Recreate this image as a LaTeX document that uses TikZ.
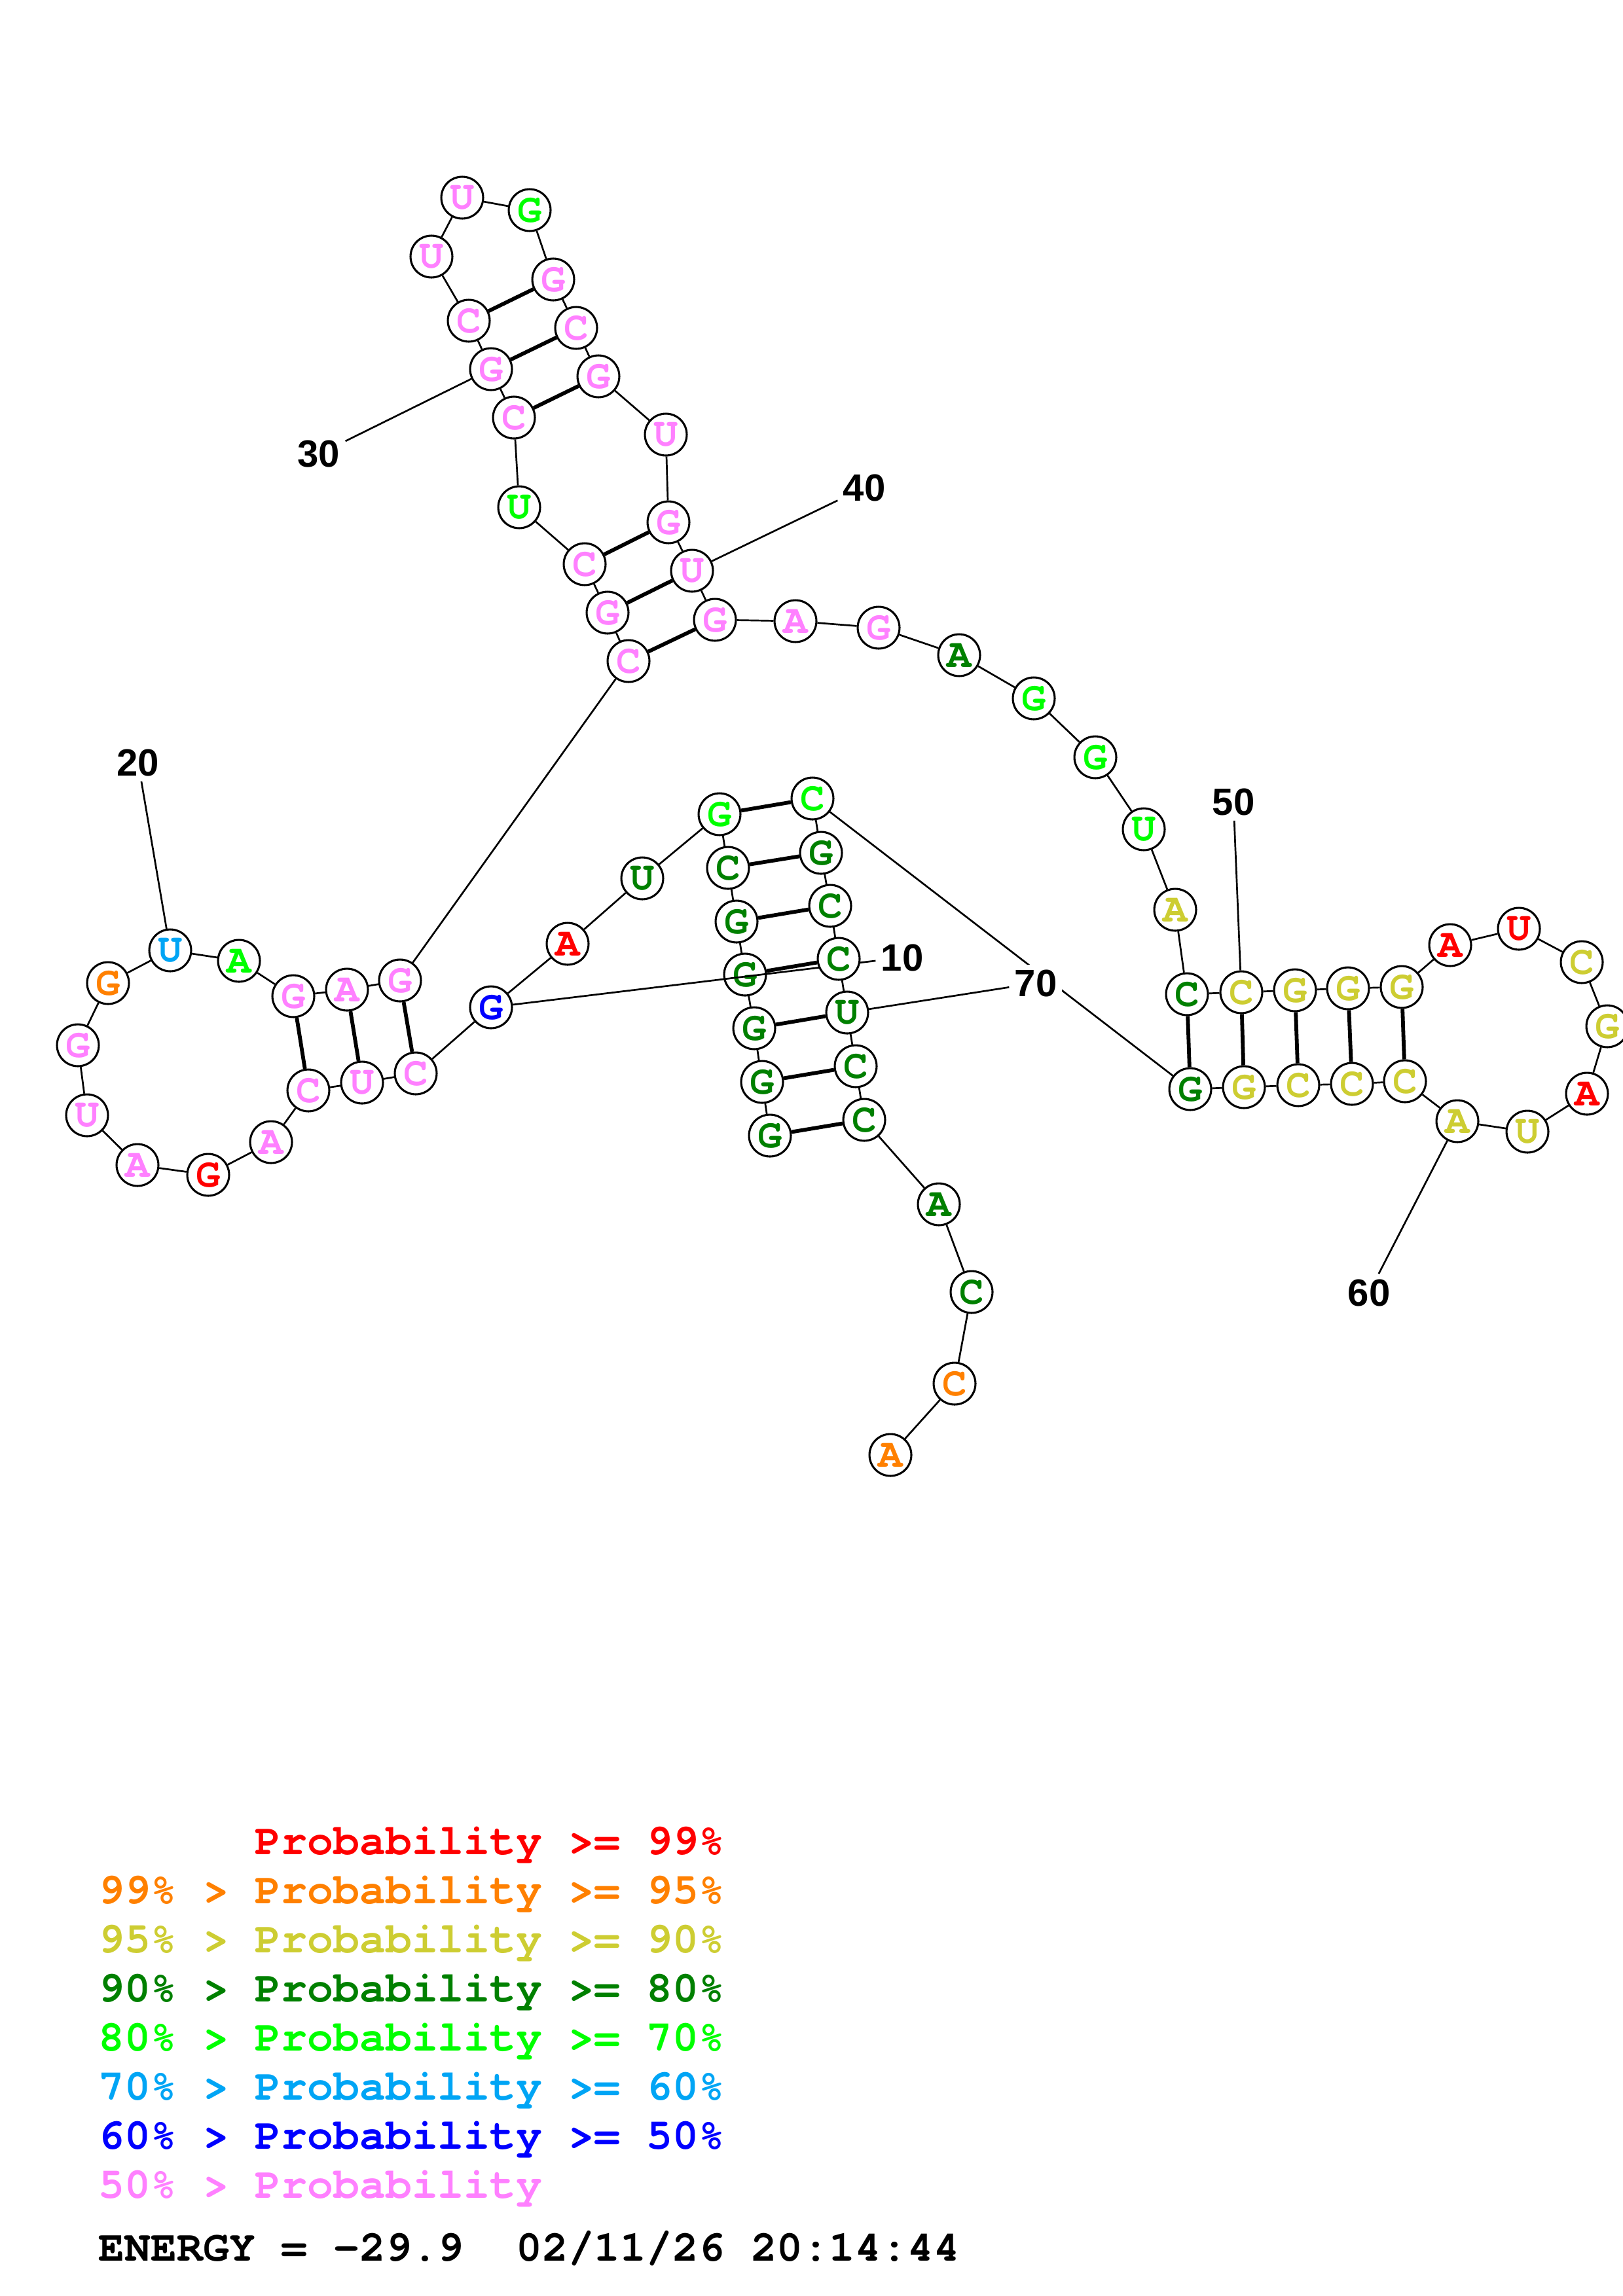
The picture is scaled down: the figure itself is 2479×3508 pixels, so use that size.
\documentclass[tikz,border=0pt]{standalone}
\usepackage{fontspec}
\newfontfamily\curfont{texgyrecursor}[Extension=.otf,UprightFont=*-regular,BoldFont=*-bold]
\newfontfamily\labfont{Liberation Sans}
\definecolor{pR}{RGB}{255,0,0}
\definecolor{pO}{RGB}{255,128,0}
\definecolor{pY}{RGB}{205,205,50}
\definecolor{pDG}{RGB}{0,128,0}
\definecolor{pG}{RGB}{0,255,0}
\definecolor{pC}{RGB}{0,165,245}
\definecolor{pB}{RGB}{0,0,255}
\definecolor{pP}{RGB}{255,128,255}
\pgfdeclarelayer{bg}
\pgfdeclarelayer{lo}
\pgfsetlayers{bg,lo,main}
\tikzset{
  nt/.style={circle,draw=black,line width=0.75pt,fill=white,minimum size=15.4pt,inner sep=0pt,
    font=\curfont\bfseries\fontsize{15}{15}\selectfont},
  bb/.style={line width=0.65pt},
  bp/.style={line width=1.4pt},
  numlab/.style={fill=white,inner sep=1.8pt,font=\labfont\bfseries\fontsize{14}{14}\selectfont},
  leg/.style={anchor=base west,inner sep=0pt,font=\curfont\bfseries\fontsize{16}{16}\selectfont}
}
\newcommand\ntd[5]{\node[nt,text=#3] (n#1) at (#4,#5) {#2};}
\frenchspacing
\begin{document}
\begin{tikzpicture}[x=0.2409pt,y=-0.2409pt]
\useasboundingbox (0,0) rectangle (2479,3508);
\begin{pgfonlayer}{bg}
\fill[white] (0,0) rectangle (2479,3508);
\end{pgfonlayer}
% nucleotides 10-76 (main layer)
\ntd{10}{G}{pB}{750}{1539}
\ntd{11}{C}{pP}{635}{1640}
\ntd{12}{U}{pP}{553}{1654}
\ntd{13}{C}{pP}{471}{1666}
\ntd{14}{A}{pP}{414}{1745}
\ntd{15}{G}{pR}{318}{1795}
\ntd{16}{A}{pP}{210}{1780}
\ntd{17}{U}{pP}{133}{1704}
\ntd{18}{G}{pP}{119}{1597}
\ntd{19}{G}{pO}{165}{1502}
\ntd{20}{U}{pC}{260}{1452}
\ntd{21}{A}{pG}{365}{1468}
\ntd{22}{G}{pP}{448}{1522}
\ntd{23}{A}{pP}{530}{1512}
\ntd{24}{G}{pP}{611}{1498}
\ntd{25}{C}{pP}{960}{1010}
\ntd{26}{G}{pP}{928}{936}
\ntd{27}{C}{pP}{893}{862}
\ntd{28}{U}{pG}{793}{775}
\ntd{29}{C}{pP}{785}{638}
\ntd{30}{G}{pP}{750}{564}
\ntd{31}{C}{pP}{716}{490}
\ntd{32}{U}{pP}{659}{392}
\ntd{33}{U}{pP}{706}{302}
\ntd{34}{G}{pG}{809}{321}
\ntd{35}{G}{pP}{845}{427}
\ntd{36}{C}{pP}{880}{501}
\ntd{37}{G}{pP}{914}{575}
\ntd{38}{U}{pP}{1017}{664}
\ntd{39}{G}{pP}{1021}{798}
\ntd{40}{U}{pP}{1057}{872}
\ntd{41}{G}{pP}{1092}{947}
\ntd{42}{A}{pP}{1215}{949}
\ntd{43}{G}{pP}{1342}{959}
\ntd{44}{A}{pDG}{1465}{1001}
\ntd{45}{G}{pG}{1579}{1067}
\ntd{46}{G}{pG}{1673}{1157}
\ntd{47}{U}{pG}{1747}{1267}
\ntd{48}{A}{pY}{1795}{1390}
\ntd{49}{C}{pDG}{1813}{1519}
\ntd{50}{C}{pY}{1896}{1516}
\ntd{51}{G}{pY}{1978}{1513}
\ntd{52}{G}{pY}{2059}{1510}
\ntd{53}{G}{pY}{2141}{1508}
\ntd{54}{A}{pR}{2215}{1444}
\ntd{55}{U}{pR}{2320}{1419}
\ntd{56}{C}{pY}{2416}{1470}
\ntd{57}{G}{pY}{2455}{1568}
\ntd{58}{A}{pR}{2424}{1671}
\ntd{59}{U}{pY}{2333}{1729}
\ntd{60}{A}{pY}{2226}{1713}
\ntd{61}{C}{pY}{2146}{1652}
\ntd{62}{C}{pY}{2065}{1656}
\ntd{63}{C}{pY}{1983}{1658}
\ntd{64}{G}{pY}{1900}{1661}
\ntd{65}{G}{pDG}{1818}{1664}
\ntd{66}{C}{pG}{1241}{1220}
\ntd{67}{G}{pDG}{1254}{1303}
\ntd{68}{C}{pDG}{1268}{1384}
\ntd{69}{C}{pDG}{1281}{1465}
\ntd{70}{U}{pDG}{1294}{1547}
\ntd{71}{C}{pDG}{1307}{1629}
\ntd{72}{C}{pDG}{1320}{1711}
\ntd{73}{A}{pDG}{1434}{1840}
\ntd{74}{C}{pDG}{1484}{1974}
\ntd{75}{C}{pO}{1458}{2114}
\ntd{76}{A}{pO}{1360}{2223}
% number labels
\node[numlab] (L10) at (1378,1463) {10};
\node[numlab] (L20) at (211,1165) {20};
\node[numlab] (L30) at (487,694) {30};
\node[numlab] (L40) at (1320,745) {40};
\node[numlab] (L50) at (1884,1225) {50};
\node[numlab] (L60) at (2091,1975) {60};
\node[numlab] (L70) at (1582,1502) {70};
% nucleotides 1-9 (lower layer)
\begin{pgfonlayer}{lo}
\ntd{1}{G}{pDG}{1176}{1735}
\ntd{2}{G}{pDG}{1164}{1653}
\ntd{3}{G}{pDG}{1152}{1571}
\ntd{4}{G}{pDG}{1138}{1489}
\ntd{5}{G}{pDG}{1125}{1408}
\ntd{6}{C}{pDG}{1112}{1326}
\ntd{7}{G}{pG}{1099}{1244}
\ntd{8}{U}{pDG}{981}{1342}
\ntd{9}{A}{pR}{867}{1442}
\draw[bb] (n10) -- (L10);
\end{pgfonlayer}
% connectors
\begin{pgfonlayer}{bg}
\foreach \i in {1,...,75}{\pgfmathtruncatemacro\j{\i+1}\draw[bb] (n\i) -- (n\j);}
\foreach \a/\b in {1/72,2/71,3/70,4/69,5/68,6/67,7/66,11/24,12/23,13/22,25/41,26/40,27/39,29/37,30/36,31/35,49/65,50/64,51/63,52/62,53/61}{\draw[bp] (n\a) -- (n\b);}
\draw[bb] (n20) -- (L20);
\draw[bb] (n30) -- (L30);
\draw[bb] (n40) -- (L40);
\draw[bb] (n50) -- (L50);
\draw[bb] (n60) -- (L60);
\draw[bb] (n70) -- (L70);
\end{pgfonlayer}
% legend
\node[leg,text=pR] (g1) at (150,2833) {\hphantom{99\% > }Probability >= 99\%};
\node[leg,text=pO] (g2) at (150,2908) {99\% > Probability >= 95\%};
\node[leg,text=pY] (g3) at (150,2983) {95\% > Probability >= 90\%};
\node[leg,text=pDG] (g4) at (150,3058) {90\% > Probability >= 80\%};
\node[leg,text=pG] (g5) at (150,3133) {80\% > Probability >= 70\%};
\node[leg,text=pC] (g6) at (150,3208) {70\% > Probability >= 60\%};
\node[leg,text=pB] (g7) at (150,3283) {60\% > Probability >= 50\%};
\node[leg,text=pP] (g8) at (150,3358) {50\% > Probability};
\node[leg,text=black] (g9) at (150,3454) {ENERGY = -29.9\ \ 02/11/26 20:14:44};
\end{tikzpicture}
\end{document}
